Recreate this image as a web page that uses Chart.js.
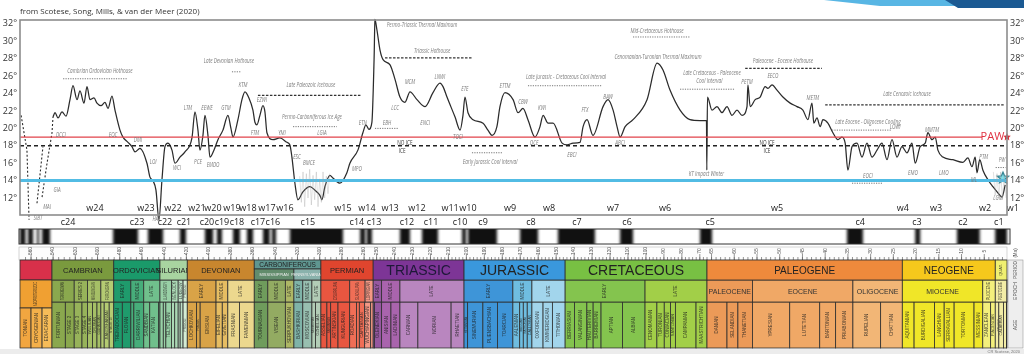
<!DOCTYPE html>
<html>
<head>
<meta charset="utf-8">
<style>
html, body { margin: 0; padding: 0; background: #fff; }
#wrap { width: 1024px; height: 354px; }
</style>
<script src="https://cdn.jsdelivr.net/npm/chart.js@4.4.1/dist/chart.umd.min.js"></script>
</head>
<body>
<div id="wrap"><canvas id="tempChart" width="1024" height="354"></canvas></div>
<script>
// Global average temperature (deg C) against age (Ma)
const paleoAges = [540.1,538.3,535.6,532,528.4,524.8,522.1,518.5,515.8,512.2,509.5,506.8,503.2,500.5,496.9,493.3,490.6,487,484.3,479.8,477.1,472.6,469,466.3,461.8,455.5,452.8,450.1,447.4,444.7,442,439.3,436.6,433,430.3,425.8,421.3,415,412.3,409.6,407.8,405.1,403.3,400.6,398.8,395.2,391.6,387.1,382.6,379.9,378.1,373.6,370,367.3,363.7,360.1,358.3,356.5,353.8,351.1,349.3,347.5,342.1,335.8,329.5,326.8,325,322.3,319.6,315.1,308.8,304.3,299.8,298,295.3,290.8,288.1,281.8,275.5,272.8,265.6,261.1,258.4,255.7,253];
const paleoTemps = [21.3,21.8,21.2,21.9,21.4,23.3,24.9,23.3,24.3,22.9,24.8,23.3,23.5,22.9,22.6,23.0,22.3,23.7,22.1,19.8,19.0,18.4,17.9,17.3,17.7,16.0,14.4,14.0,12.9,9.5,14.1,17.9,18.3,17.5,16.0,16.7,17.3,18.9,21.9,19.8,17.5,19.2,21.5,19.2,16.7,17.5,18.7,19.8,21.5,20.0,19.0,21.0,23.3,24.2,23.5,22.1,20.7,20.4,21.5,22.6,21.9,19.5,18.7,18.9,18.4,18.1,16.7,13.7,11.8,12.7,13.3,12.9,12.3,11.8,13.3,14.6,14.3,13.7,14.9,16.0,17.5,19.5,20.4,19.9,20.7];
const mesoAges = [251.4,250.9,249.8,248.1,246.4,242.5,239.7,237,234.2,231.4,227.5,223,218.6,214.7,213,210.8,206.3,203.5,201.9,200.8,199.1,196.3,190.7,188,185.7,183,181.3,178.5,174,171.2,168.5,165.7,161.8,159,157.3,154.5,151.7,146.7,143.9,140.6,136.7,135,132.8,129.5,123.9,121.1,118.3,116.1,114.4,111.6,107.2,99.4,93.8,90.5,86.6,81,75.5,69.9,67.1,66.3,66.1];
const mesoTemps = [27.9,32.5,31.3,29.0,27.9,27.3,25.6,23.6,23.0,24.2,23.3,22.5,24.1,25.2,24.8,23.6,21.3,19.8,21.5,23.6,21.8,21.0,20.6,19.8,19.2,20.2,22.5,24.1,23.3,21.8,22.3,21.0,19.0,20.2,21.5,20.6,20.6,18.3,18.1,18.3,18.4,20.2,21.0,19.2,22.5,23.3,22.1,20.2,19.0,20.2,21.0,23.3,27.5,26.7,24.4,22.1,21.0,20.9,20.9,20.9,15.2];
const cenoAges = [65.9,64.9,63.8,62.7,61.6,60.5,59.4,58.3,57.2,57.0,56.5,55.4,54.3,53.2,52.6,51.7,50.6,49.3,47.7,46.2,44.9,43.8,42.9,42.5,41.8,41.1,40.5,39.4,38.3,37.2,36.3,35.6,35.0,34.1,33.0,31.9,30.8,29.7,28.6,27.5,26.4,25.3,24.2,23.1,22.0,20.9,20.2,19.1,18.0,17.4,16.5,15.8,15.2,14.1,11.9,9.7,8.6,7.7,7.0,6.6,6.0,5.3,4.2,3.1,2.0,1.1,0.4];
const cenoTemps = [23.6,22.1,22.5,21.8,22.5,21.5,22.1,21.5,22.5,25.0,22.5,23.3,23.6,24.8,24.6,25.0,24.4,23.6,22.9,22.5,22.1,21.0,22.9,20.6,21.2,20.2,21.0,20.6,19.5,18.7,19.0,18.3,15.2,17.9,18.3,16.7,18.3,16.7,17.5,18.3,16.4,18.7,16.7,17.9,17.2,18.3,16.0,17.9,18.3,19.5,18.7,19.0,17.5,16.7,16.4,16.1,16.6,15.6,16.7,14.9,16.4,15.2,14.1,13.3,12.6,12.1,13.5];

// uncertain early Cambrian / Ediacaran traces (dashed)
const earlyAges = [[569, 563.7, 561.8], [554.6, 549.2], [550, 545.5, 541, 540.1]];
const earlyTemps = [[21.5, 17.5, 9.5], [11.4, 17.9], [12.1, 16.0, 19.5, 21.3]];

// glacial oscillations (grey)
const glacialAges = [[318,316.5,315,313.5,312,310.5,309,307.5,306,304.5,303,301.5,300,298.5,297,295.5,294,292.5,291], [3.0,2.6,2.2,1.8,1.4,1.0,0.6,0.2]];
const glacialTemps = [[14.5,11.5,15.0,11.0,14.8,12.0,15.3,11.2,14.6,11.8,15.0,11.0,14.2,11.5,15.0,12.0,14.5,12.5,14.8], [15.0,12.3,14.8,12.0,15.0,11.8,14.6,12.0]];

const pawTemp = 19, iceTemp = 18, modernTemp = 14;
const tempTicks = [12, 14, 16, 18, 20, 22, 24, 26, 28, 30, 32];

const wLabels = ['w24','w23','w22','w21','w20','w19','w18','w17','w16','w15','w14','w13','w12','w11','w10','w9','w8','w7','w6','w5','w4','w3','w2','w1'];
const wAges = [502.3,456.4,432.1,410.5,396.1,379,364.6,347.5,331.3,279.1,257.5,242.5,227.5,209.1,199.1,175.7,154,118.3,89.4,50.6,22.9,15.6,4.8,-1.3];
const cLabels = ['c24','c23','c22','c21','c20','c19','c18','c17','c16','c15','c14','c13','c12','c11','c10','c9','c8','c7','c6','c5','c4','c3','c2','c1'];
const cAges = [526.6,464.5,439.3,422.2,401.5,388,374.5,355.6,342.1,310.6,266.5,251.4,233.1,219.7,203.5,190.7,164,138.4,110.5,65.3,32.3,19.8,9.7,1.8];

// [text, age, temp]
const notes = [
  ['Cambrian Ordovician Hothouse', 497.8, 26.6], ['Late Devonian Hothouse', 381.7, 27.7], ['KTM', 369, 25.0],
  ['LTM', 418.6, 22.3], ['EEWE', 401.5, 22.3], ['GTM', 384.4, 22.3], ['EZWI', 352, 23.3],
  ['Late Paleozoic Icehouse', 307.9, 25.0], ['Permo-Carboniferous Ice Age', 307, 21.3],
  ['Permo-Triassic Thermal Maximum', 224.7, 31.9], ['Triassic Hothouse', 219.1, 28.9],
  ['MCM', 231.4, 25.3], ['LNWI', 214.7, 25.9], ['ETE', 200.8, 24.5], ['LCC', 239.7, 22.3],
  ['ETN', 261.1, 20.6], ['EBH', 244.2, 20.6], ['ENCI', 223, 20.6],
  ['ETTM', 178.5, 24.8], ['CBW', 168.5, 23.0], ['KWI', 157.9, 22.3], ['FTX', 134, 22.1], ['BAW', 121.1, 23.6],
  ['Late Jurassic - Cretaceous Cool Interval', 144.5, 25.9], ['Mid-Cretaceous Hothouse', 93.8, 31.2],
  ['Cenomanian-Turonian Thermal Maximum', 93.3, 28.2], ['Late Cretaceous - Paleocene', 64.9, 26.4], ['Cool Interval', 65.5, 25.4],
  ['PETM', 57.2, 25.3], ['EECO', 51.5, 26.0], ['Paleocene - Eocene Hothouse', 49.3, 27.7], ['METM', 42.7, 23.5],
  ['Late Cenozoic Icehouse', 22, 23.9], ['Late Eocene - Oligocene Cooling', 30.6, 20.7], ['LOWI', 24.6, 20.2],
  ['MMTM', 16.5, 19.8], ['EOCI', 30.6, 14.5], ['EMO', 20.7, 14.9], ['LMO', 13.9, 14.9], ['PTM', 5.1, 16.7],
  ['ML', 7.3, 14.1], ['PW', 1.1, 16.4], ['LGM', 2, 12.0], ['KT Impact Winter', 66.3, 14.8],
  ['NO ICE', 234.2, 18.3], ['ICE', 235.8, 17.4], ['NO ICE', 52.8, 18.3], ['ICE', 52.8, 17.4],
  ['Early Jurassic Cool Interval', 186.8, 16.1], ['TOCI', 204.7, 19.0], ['OCE', 162.3, 18.3], ['EBCI', 141.2, 16.9],
  ['ABCI', 114.4, 18.3], ['DCCI', 533, 19.2], ['EOC', 486.1, 19.2], ['DMI', 463.6, 18.7], ['LOI', 450, 16.1],
  ['HAI', 447.4, 9.6], ['WCI', 428.5, 15.4], ['PCE', 409.6, 16.1], ['EMDO', 396, 15.8], ['FTM', 358.3, 19.5],
  ['YMI', 334, 19.5], ['LGIA', 298, 19.5], ['ESC', 320.5, 16.7], ['BMCE', 309.7, 16.0], ['MPO', 266.5, 15.3],
  ['GIA', 536.5, 12.9], ['MAI', 545.5, 10.9], ['SIBT', 553.7, 9.7]
];
// [from age, to age, temp, kind]
const noteBars = [
  [531, 473.5, 25.7, 'dot'], [379, 371, 26.5, 'dot'], [355.6, 262.9, 23.8, 'dash'], [324, 284.5, 20.2, 'dot'],
  [245.3, 196.9, 28.1, 'dash'], [250.9, 238.1, 20.0, 'dot'], [165.7, 124.4, 24.9, 'dot'], [107.2, 75.5, 30.5, 'dot'],
  [81, 59.8, 24.5, 'dot'], [57.6, 40.7, 26.9, 'dash'], [40, 0.4, 22.7, 'dash'], [38.5, 25.3, 19.8, 'dot'],
  [34.1, 27.3, 13.7, 'dot'], [196.9, 179.6, 17.2, 'dot'], [2.5, 0.3, 15.5, 'dot']
];

// reversed-polarity (black) intervals, Ma
const polarityBlack = [[570,565],[562.7,558.2],[554.6,552.8],[550,542.8],[486,463.6],[454.6,441],[425.8,420.4],[403.3,396],[392.5,388],[378,371.8],[365.5,360],[351,345],[343,339.4],[326.8,279],[263.6,259],[257.6,253],[237,231.4],[224.7,215.8],[202.4,200.2],[199.1,183],[170.1,160.1],[149,128.4],[114.4,107.2],[69.9,64.9],[35.2,31.7],[20.2,19.1],[11,6],[2.6,0]];
const rulerTicks = [560,540,520,500,480,460,440,420,400,380,360,340,320,300,280,260,250,240,230,220,210,200,190,180,170,160,150,140,130,120,110,100,90,80,70,65,60,55,50,45,40,35,30,25,20,15,10,5];

const periods = [
  ['CAMBRIAN',541,485.4,'#7a9a3e'], ['ORDOVICIAN',485.4,443.8,'#1a9a6a'], ['SILURIAN',443.8,419.2,'#a8d4a0'],
  ['DEVONIAN',419.2,358.9,'#c8862e'], ['CARBONIFEROUS',358.9,298.9,'#5f9690'], ['PERMIAN',298.9,251.9,'#e0452e'],
  ['TRIASSIC',251.9,201.3,'#7d3596'], ['JURASSIC',201.3,145,'#3a98dc'], ['CRETACEOUS',145,66,'#78c043'],
  ['PALEOGENE',66,23.03,'#ee8a3c'], ['NEOGENE',23.03,2.58,'#f6c81c'], ['QUAT.',2.58,0,'#f0f070']
];
const subPeriods = [['MISSISSIPPIAN',358.9,323.2,'#628c6c'], ['PENNSYLVANIAN',323.2,298.9,'#8ab2ac']];
const epochs = [
  ['TERRENEUVIAN',541,521,'#8aa84e'],['SERIES 2',521,509,'#97b35a'],['MIAOLINGIAN',509,497,'#a5bf66'],['FURONGIAN',497,485.4,'#b4cb72'],
  ['EARLY',485.4,470,'#1f9b6c'],['MIDDLE',470,458.4,'#47ad7a'],['LATE',458.4,443.8,'#70c08c'],
  ['LLANDOVERY',443.8,433.4,'#98d0a6'],['WENLOCK',433.4,427.4,'#acd9b6'],['LUDLOW',427.4,423,'#bde0c6'],['PRIDOLI',423,419.2,'#d4ecd4'],
  ['EARLY',419.2,393.3,'#d9a347'],['MIDDLE',393.3,382.7,'#e6bd62'],['LATE',382.7,358.9,'#ecd88e'],
  ['EARLY',358.9,346.7,'#6f9c5c'],['MIDDLE',346.7,330.9,'#93ab62'],['LATE',330.9,323.2,'#aeb765'],
  ['EARLY',323.2,315.2,'#7fb3a8'],['MIDDLE',315.2,307,'#98bfb0'],['LATE',307,298.9,'#b2ccb6'],
  ['CISURALIAN',298.9,272.95,'#e85640'],['GUADALUPIAN',272.95,259.1,'#f06e56'],['LOPINGIAN',259.1,251.9,'#f49884'],
  ['EARLY',251.9,247.2,'#9658a0'],['MIDDLE',247.2,237,'#a964ad'],['LATE',237,201.3,'#b986bf'],
  ['EARLY',201.3,174.1,'#3e95d8'],['MIDDLE',174.1,163.5,'#6fbde0'],['LATE',163.5,145,'#a2d5ec'],
  ['EARLY',145,100.5,'#84c44e'],['LATE',100.5,66,'#a2cf48'],
  ['PALEOCENE',66,56,'#ec9a58'],['EOCENE',56,33.9,'#f0a866'],['OLIGOCENE',33.9,23.03,'#f2b676'],
  ['MIOCENE',23.03,5.333,'#f0e628'],['PLIOCENE',5.333,2.58,'#f3ef7c'],
  ['PLEISTOCENE',2.58,0.0117,'#f2eca6'],['HOLOCENE',0.0117,0,'#f4ead2']
];
const stages = [
  ['FORTUNIAN',541,529],['STAGE 2',529,521],['STAGE 3',521,514],['STAGE 4',514,509],['WULIUAN',509,504.5],['DRUMIAN',504.5,500.5],['GUZHANGIAN',500.5,497],['PAIBIAN',497,494],['JIANGSHANIAN',494,489.5],['STAGE 10',489.5,485.4],
  ['TREMADOCIAN',485.4,477.7],['FLOIAN',477.7,470],['DAPINGIAN',470,467.3],['DARRIWILIAN',467.3,458.4],['SANDBIAN',458.4,453],['KATIAN',453,445.2],['HIRNANTIAN',445.2,443.8],
  ['RHUDDANIAN',443.8,440.8],['AERONIAN',440.8,438.5],['TELYCHIAN',438.5,433.4],['SHEINWOODIAN',433.4,430.5],['HOMERIAN',430.5,427.4],['GORSTIAN',427.4,425.6],['LUDFORDIAN',425.6,423],['PRIDOLI',423,419.2],
  ['LOCHKOVIAN',419.2,410.8],['PRAGIAN',410.8,407.6],['EMSIAN',407.6,393.3],['EIFELIAN',393.3,387.7],['GIVETIAN',387.7,382.7],['FRASNIAN',382.7,372.2],['FAMENNIAN',372.2,358.9],
  ['TOURNAISIAN',358.9,346.7],['VISEAN',346.7,330.9],['SERPUKHOVIAN',330.9,323.2],['BASHKIRIAN',323.2,315.2],['MOSCOVIAN',315.2,307],['KASIMOVIAN',307,303.7],['GZHELIAN',303.7,298.9],
  ['ASSELIAN',298.9,293.5],['SAKMARIAN',293.5,290.1],['ARTINSKIAN',290.1,283.5],['KUNGURIAN',283.5,273],['ROADIAN',273,266.9],['WORDIAN',266.9,264.3],['CAPITANIAN',264.3,259.5],['WUCHIAPINGIAN',259.5,254.1],['CHANGHSINGIAN',254.1,251.9],
  ['INDUAN',251.9,251.2],['OLENEKIAN',251.2,247.2],['ANISIAN',247.2,242],['LADINIAN',242,237],['CARNIAN',237,227],['NORIAN',227,208.5],['RHAETIAN',208.5,201.3],
  ['HETTANGIAN',201.3,199.3],['SINEMURIAN',199.3,190.8],['PLIENSBACHIAN',190.8,182.7],['TOARCIAN',182.7,174.1],['AALENIAN',174.1,170.3],['BAJOCIAN',170.3,168.3],['BATHONIAN',168.3,166.1],['CALLOVIAN',166.1,163.5],['OXFORDIAN',163.5,157.3],['KIMMERIDGIAN',157.3,152.1],['TITHONIAN',152.1,145],
  ['BERRIASIAN',145,139.8],['VALANGINIAN',139.8,132.9],['HAUTERIVIAN',132.9,129.4],['BARREMIAN',129.4,125],['APTIAN',125,113],['ALBIAN',113,100.5],['CENOMANIAN',100.5,93.9],['TURONIAN',93.9,89.8],['CONIACIAN',89.8,86.3],['SANTONIAN',86.3,83.6],['CAMPANIAN',83.6,72.1],['MAASTRICHTIAN',72.1,66],
  ['DANIAN',66,61.6],['SELANDIAN',61.6,59.2],['THANETIAN',59.2,56],['YPRESIAN',56,47.8],['LUTETIAN',47.8,41.2],['BARTONIAN',41.2,37.7],['PRIABONIAN',37.7,33.9],['RUPELIAN',33.9,27.8],['CHATTIAN',27.8,23.03],
  ['AQUITANIAN',23.03,20.44],['BURDIGALIAN',20.44,15.97],['LANGHIAN',15.97,13.82],['SERRAVALLIAN',13.82,11.63],['TORTONIAN',11.63,7.25],['MESSINIAN',7.25,5.33],['ZANCLEAN',5.33,3.6],['PIACENZIAN',3.6,2.58],
  ['GELASIAN',2.58,1.8],['CALABRIAN',1.8,0.77],['CHIBANIAN',0.77,0.13],['UPPER',0.13,0.01]
];
const precambrianCells = [['TONIAN',570,560,'#f2a640'], ['CRYOGENIAN',560,550,'#f4b04a'], ['EDIACARAN',550,541,'#f6bc58']];

// the figure stretches the Mesozoic and Cenozoic: piecewise linear time axis
const timeAnchors = [[570, 0], [541, 32], [252, 353], [66, 687], [0, 987]];
function ageToAxis(age) {
    let i = 0;
    while (i < timeAnchors.length - 2 && age < timeAnchors[i + 1][0]) i++;
    const [a0, p0] = timeAnchors[i], [a1, p1] = timeAnchors[i + 1];
    return p0 + (a0 - age) * (p1 - p0) / (a0 - a1);
}
function toPoints(ages, temps) {
    return ages.map((a, i) => ({ x: ageToAxis(a), y: temps[i] }));
}

function starImage(r, fill, stroke) {
    const c = document.createElement('canvas');
    const s = Math.ceil(r * 2 + 4);
    c.width = c.height = s;
    const g = c.getContext('2d');
    g.translate(s / 2, s / 2);
    g.beginPath();
    for (let k = 0; k < 10; k++) {
        const rr = k % 2 ? r * 0.45 : r;
        const a = -Math.PI / 2 + k * Math.PI / 5;
        g.lineTo(rr * Math.cos(a), rr * Math.sin(a));
    }
    g.closePath();
    g.fillStyle = fill;
    g.fill();
    if (stroke) { g.strokeStyle = stroke; g.lineWidth = 1.2; g.stroke(); }
    return c;
}

function vText(ctx, text, cx, cy, maxLen, size, color) {
    ctx.save();
    ctx.translate(cx, cy);
    ctx.rotate(-Math.PI / 2);
    ctx.font = size + 'px "Liberation Sans"';
    ctx.fillStyle = color || 'rgba(30,30,30,0.8)';
    ctx.textAlign = 'center';
    ctx.textBaseline = 'middle';
    const w = ctx.measureText(text).width;
    if (w > maxLen) ctx.scale(maxLen / w, 1);
    ctx.fillText(text, 0, 0);
    ctx.restore();
}

function cell(ctx, x0, x1, y0, y1, fill) {
    ctx.fillStyle = fill;
    ctx.fillRect(x0, y0, x1 - x0, y1 - y0);
    ctx.strokeStyle = '#2e2e2e';
    ctx.lineWidth = 0.8;
    ctx.strokeRect(x0, y0, x1 - x0, y1 - y0);
}

const periodFont = { TRIASSIC: 14, JURASSIC: 14, CRETACEOUS: 14, PALEOGENE: 10, NEOGENE: 10 };

const decorPlugin = {
    id: 'decor',
    afterDatasetsDraw(chart) {
        const { ctx, chartArea: ca, scales } = chart;
        const px = a => scales.x.getPixelForValue(ageToAxis(a));
        const py = t => scales.y.getPixelForValue(t);

        // note bars
        noteBars.forEach(([a0, a1, t, kind]) => {
            ctx.save();
            ctx.beginPath();
            ctx.moveTo(px(a0), py(t));
            ctx.lineTo(px(a1), py(t));
            if (kind === 'dot') { ctx.strokeStyle = '#777'; ctx.lineWidth = 1; ctx.setLineDash([1.2, 1.2]); }
            else { ctx.strokeStyle = '#333'; ctx.lineWidth = 1.3; ctx.setLineDash([2.5, 1.5]); }
            ctx.stroke();
            ctx.restore();
        });

        // notes
        notes.forEach(([text, a, t]) => {
            ctx.save();
            ctx.translate(px(a), py(t));
            ctx.scale(0.72, 1);
            const plain = text === 'NO ICE' || text === 'ICE';
            ctx.font = (plain ? '' : 'italic ') + '6.5px "Open Sans"';
            ctx.fillStyle = plain ? '#333' : '#7a7a7a';
            ctx.textAlign = 'center';
            ctx.textBaseline = 'middle';
            ctx.fillText(text, 0, 0);
            ctx.restore();
        });

        // PAW label
        ctx.font = '11px "Open Sans"';
        ctx.fillStyle = '#e03040';
        ctx.textAlign = 'center';
        ctx.textBaseline = 'middle';
        ctx.fillText('PAW', px(3.2), py(pawTemp));

        // w labels
        ctx.font = '9px "Open Sans"';
        ctx.fillStyle = '#222';
        wLabels.forEach((l, i) => ctx.fillText(l, px(wAges[i]), ca.bottom - 7));

        // frame
        ctx.strokeStyle = '#8c8c8c';
        ctx.lineWidth = 1.6;
        ctx.strokeRect(ca.left, ca.top, ca.right - ca.left, ca.bottom - ca.top);
    },
    afterDraw(chart) {
        const { ctx, chartArea: ca, scales } = chart;
        const px = a => scales.x.getPixelForValue(ageToAxis(a));
        ctx.save();

        // title and slide decoration
        ctx.font = '8px "Open Sans"';
        ctx.fillStyle = '#333';
        ctx.textAlign = 'left';
        ctx.textBaseline = 'middle';
        ctx.fillText('from Scotese, Song, Mills, & van der Meer (2020)', 20, 12);
        ctx.fillStyle = '#58b6e4';
        ctx.beginPath();
        ctx.moveTo(824, 0); ctx.lineTo(1024, 0); ctx.lineTo(1024, 6); ctx.lineTo(880, 6); ctx.closePath();
        ctx.fill();
        ctx.fillStyle = '#1b5a93';
        ctx.beginPath();
        ctx.moveTo(945, 0); ctx.lineTo(1024, 0); ctx.lineTo(1024, 8); ctx.lineTo(958, 8); ctx.closePath();
        ctx.fill();

        // c labels
        ctx.font = '9px "Open Sans"';
        ctx.fillStyle = '#222';
        ctx.textAlign = 'center';
        cLabels.forEach((l, i) => ctx.fillText(l, px(cAges[i]), ca.bottom + 7));

        // magnetic polarity bar
        const bl = ca.left - 1, br = ca.right + 3, bt = ca.bottom + 14, bb = ca.bottom + 29;
        ctx.fillStyle = '#fff';
        ctx.fillRect(bl, bt, br - bl, bb - bt);
        ctx.save();
        ctx.beginPath();
        ctx.rect(bl, bt, br - bl, bb - bt);
        ctx.clip();
        ctx.filter = 'blur(1.6px)';
        ctx.fillStyle = '#111';
        polarityBlack.forEach(([a0, a1]) => ctx.fillRect(px(a0), bt - 4, px(a1) - px(a0), bb - bt + 8));
        ctx.restore();
        ctx.strokeStyle = '#333';
        ctx.lineWidth = 1;
        ctx.strokeRect(bl, bt, br - bl, bb - bt);

        // age ruler
        const rt = ca.bottom + 32, rb = ca.bottom + 45;
        ctx.fillStyle = '#fdfdfd';
        ctx.fillRect(bl, rt, ca.right - bl, rb - rt);
        ctx.strokeStyle = '#bbb';
        ctx.lineWidth = 0.6;
        ctx.strokeRect(bl, rt, ca.right - bl, rb - rt);
        ctx.strokeStyle = '#666';
        ctx.lineWidth = 0.7;
        ctx.beginPath();
        const minorTick = a => { const x = px(a); if (x >= ca.left && x <= ca.right) { ctx.moveTo(x, rb - 3); ctx.lineTo(x, rb); } };
        for (let a = 565; a > 252; a -= 5) minorTick(a);
        for (let a = 252; a > 66; a -= 2) minorTick(a);
        for (let a = 66; a > 0; a -= 1) minorTick(a);
        rulerTicks.forEach(a => { const x = px(a); ctx.moveTo(x, rb - 6); ctx.lineTo(x, rb); });
        ctx.stroke();
        rulerTicks.forEach(a => vText(ctx, String(a), px(a), rt + 4, 8, 5, '#555'));

        // geological time scale
        const yP = ca.bottom + 45, yE = ca.bottom + 65, yS = ca.bottom + 87, yB = ca.bottom + 133;
        const x570 = px(570), x541 = px(541);
        cell(ctx, x570, x541, yP, yE, '#d8304a');
        cell(ctx, x570, x541, yE, yS + 6, '#f0a032');
        vText(ctx, 'NEOPROTEROZOIC', (x570 + x541) / 2, (yE + yS + 6) / 2, 24, 4.5);
        precambrianCells.forEach(([n, a0, a1, c]) => {
            cell(ctx, px(a0), px(a1), yS + 6, yB, c);
            vText(ctx, n, (px(a0) + px(a1)) / 2, (yS + 6 + yB) / 2, 36, 4.5);
        });

        stages.forEach(([n, a0, a1]) => {
            const mid = (a0 + a1) / 2;
            const ep = epochs.find(e => mid <= e[1] && mid >= e[2]);
            const x0 = px(a0), x1 = px(a1);
            cell(ctx, x0, x1, yS, yB, ep ? ep[3] : '#ddd');
            const w = x1 - x0;
            if (w >= 3.5) vText(ctx, n, (x0 + x1) / 2, (yS + yB) / 2, yB - yS - 8, Math.min(4.5, w - 1));
        });

        epochs.forEach(([n, a0, a1, c]) => {
            const x0 = px(a0), x1 = px(a1);
            cell(ctx, x0, x1, yE, yS, c);
            const w = x1 - x0;
            if (a0 <= 66 && w > 35) {
                ctx.font = '7px "Liberation Sans"';
                ctx.fillStyle = '#333';
                ctx.textAlign = 'center';
                ctx.textBaseline = 'middle';
                ctx.fillText(n, (x0 + x1) / 2, (yE + yS) / 2 + 1);
            } else if (w >= 3.5) {
                vText(ctx, n, (x0 + x1) / 2, (yE + yS) / 2, yS - yE - 4, Math.min(4.5, w - 1));
            }
        });

        periods.forEach(([n, a0, a1, c]) => {
            const x0 = px(a0), x1 = px(a1);
            const w = x1 - x0;
            if (n === 'CARBONIFEROUS') {
                cell(ctx, x0, x1, yP, yP + 9, c);
                ctx.font = '6.5px "Liberation Sans"';
                ctx.fillStyle = '#222';
                ctx.textAlign = 'center';
                ctx.textBaseline = 'middle';
                ctx.fillText(n, (x0 + x1) / 2, yP + 5);
                subPeriods.forEach(([sn, s0, s1, sc]) => {
                    cell(ctx, px(s0), px(s1), yP + 9, yE, sc);
                    ctx.save();
                    ctx.font = '4px "Liberation Sans"';
                    ctx.fillStyle = '#eee';
                    ctx.fillText(sn, (px(s0) + px(s1)) / 2, yP + 15);
                    ctx.restore();
                });
                return;
            }
            cell(ctx, x0, x1, yP, yE, c);
            if (w < 15) { vText(ctx, n, (x0 + x1) / 2, (yP + yE) / 2, yE - yP - 3, 4); return; }
            const size = periodFont[n] || 7.5;
            ctx.font = size + 'px "Liberation Sans"';
            ctx.fillStyle = n === 'TRIASSIC' ? '#1e1838' : '#222';
            ctx.textAlign = 'center';
            ctx.textBaseline = 'middle';
            ctx.fillText(n, (x0 + x1) / 2, (yP + yE) / 2 + 1);
        });

        // right-hand legend column
        const lx0 = ca.right + 1, lx1 = 1023;
        ctx.fillStyle = '#eeeeee';
        ctx.fillRect(lx0, yP, lx1 - lx0, yB - yP);
        ctx.strokeStyle = '#999';
        ctx.lineWidth = 0.6;
        ctx.strokeRect(lx0, yP, lx1 - lx0, yB - yP);
        vText(ctx, '(Ma)', (lx0 + lx1) / 2, rt + 6, 12, 4.5, '#555');
        vText(ctx, 'PERIOD', (lx0 + lx1) / 2, (yP + yE) / 2, 18, 5, '#555');
        vText(ctx, 'EPOCH', (lx0 + lx1) / 2, (yE + yS) / 2, 18, 5, '#555');
        vText(ctx, 'AGE', (lx0 + lx1) / 2, (yS + yB) / 2, 18, 5, '#555');

        // bottom strip
        ctx.fillStyle = '#ececec';
        ctx.fillRect(0, yB + 1, 1024, 354 - yB - 1);
        ctx.font = '4px "Liberation Sans"';
        ctx.fillStyle = '#777';
        ctx.textAlign = 'right';
        ctx.fillText('CR Scotese, 2020', 1020, yB + 3.5);
        ctx.restore();
    }
};

const curveColor = '#2b2b2b';
const datasets = [];
glacialAges.forEach((ages, i) => datasets.push({
    data: toPoints(ages, glacialTemps[i]), showLine: true, borderColor: 'rgba(160,160,160,0.4)',
    borderWidth: 0.8, pointRadius: 0, clip: false
}));
datasets.push(
    { data: toPoints([570, 5.5], [pawTemp, pawTemp]), showLine: true, borderColor: '#e2434b', borderWidth: 1.3, pointRadius: 0 },
    { data: toPoints([570, 0], [iceTemp, iceTemp]), showLine: true, borderColor: '#222', borderWidth: 1.5, borderDash: [4, 3], pointRadius: 0 },
    { data: toPoints([570, 0], [modernTemp, modernTemp]), showLine: true, borderColor: '#52bce4', borderWidth: 3, pointRadius: 0 }
);
earlyAges.forEach((ages, i) => datasets.push({
    data: toPoints(ages, earlyTemps[i]), showLine: true, borderColor: curveColor,
    borderWidth: 1.1, borderDash: [2, 2], pointRadius: 0, clip: false
}));
datasets.push({
    data: toPoints(paleoAges.concat(mesoAges, cenoAges), paleoTemps.concat(mesoTemps, cenoTemps)),
    showLine: true, borderColor: curveColor, borderWidth: 1.25, pointRadius: 0,
    cubicInterpolationMode: 'monotone', clip: false
});
datasets.push(
    { data: toPoints([0.9], [14.3]), pointStyle: starImage(6, '#7fe0ea', '#2f7f8f'), pointRadius: 6, clip: false },
    { data: toPoints([0], [pawTemp]), pointStyle: starImage(4, '#d0202c'), pointRadius: 4, clip: false }
);

const yTicks = {
    afterBuildTicks: s => { s.ticks = tempTicks.map(v => ({ value: v })); },
    ticks: { callback: v => v + '°', color: '#333', font: { size: 9, family: '"Open Sans"' }, padding: 3 },
    grid: { display: false, drawTicks: false },
    border: { display: false },
    min: 10.05,
    max: 32.45
};

new Chart(document.getElementById('tempChart'), {
    type: 'scatter',
    data: { datasets },
    options: {
        responsive: false,
        animation: false,
        layout: { padding: { top: 20, bottom: 139, left: 0, right: 0 } },
        plugins: { legend: { display: false }, tooltip: { enabled: false } },
        scales: {
            x: { type: 'linear', min: ageToAxis(570), max: ageToAxis(0), display: false },
            y: Object.assign({ position: 'left', afterFit: s => { s.width = 20; } }, yTicks),
            y2: Object.assign({ position: 'right', afterFit: s => { s.width = 17; } }, yTicks)
        }
    },
    plugins: [decorPlugin]
});
</script>
</body>
</html>
